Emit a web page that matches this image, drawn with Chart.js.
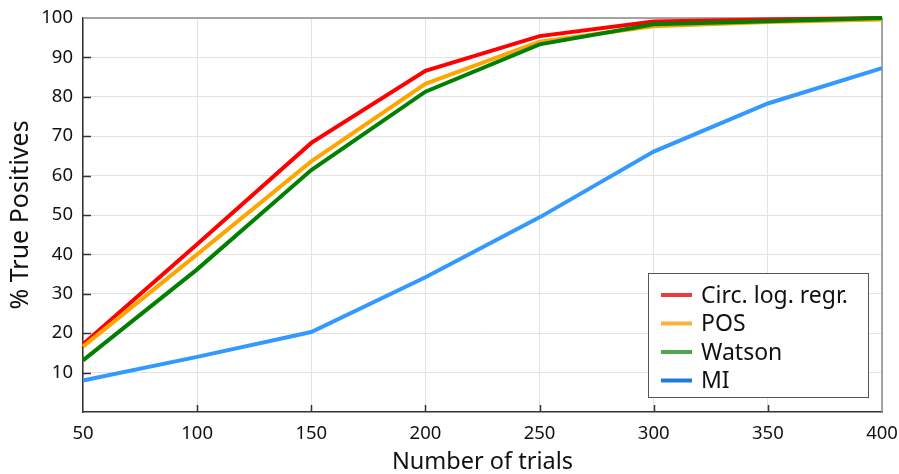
<!DOCTYPE html>
<html>
<head>
<meta charset="utf-8">
<script src="https://cdn.jsdelivr.net/npm/chart.js@4.4.1/dist/chart.umd.min.js"></script>
<style>
  html, body { margin: 0; padding: 0; background: #fff; }
  #wrap { width: 899px; height: 474px; }
</style>
</head>
<body>
<div id="wrap"><canvas id="tpChart" width="899" height="474"></canvas></div>
<script>
const trials = [50, 100, 150, 200, 250, 300, 350, 400];
const circLogRegr = [17.2, 42.6, 68.3, 86.6, 95.4, 99.1, 99.6, 100];
const posValues = [16.6, 40.0, 63.6, 83.3, 94.0, 97.9, 99.0, 99.6];
const watsonValues = [13.1, 36.2, 61.4, 81.3, 93.3, 98.4, 99.2, 100];
const miValues = [8.0, 14.0, 20.3, 34.2, 49.4, 66.1, 78.3, 87.3];
const yTicks = [10, 20, 30, 40, 50, 60, 70, 80, 90, 100];

const FONT = "'Noto Sans', 'Open Sans', sans-serif";

// label, values, line colour, legend swatch colour, draw order (lower = on top)
const series = [
  { label: "Circ. log. regr.", data: circLogRegr, color: "#ff0000", swatch: "#ec3b3b", order: 3 },
  { label: "POS", data: posValues, color: "#ffa500", swatch: "#ffaf3c", order: 2 },
  { label: "Watson", data: watsonValues, color: "#008000", swatch: "#4ea64e", order: 1 },
  { label: "MI", data: miValues, color: "#3399ff", swatch: "#1b7bd9", order: 4 }
];

const datasets = series.map((s) => ({
  label: s.label,
  data: trials.map((t, i) => ({ x: t, y: s.data[i] })),
  borderColor: s.color,
  backgroundColor: s.color,
  borderWidth: 4,
  pointRadius: 0,
  tension: 0,
  clip: 6,
  order: s.order
}));

// frame, inward tick marks and the boxed legend
const framePlugin = {
  id: "frame",
  beforeDatasetsDraw(chart) {
    const { ctx, chartArea: a } = chart;
    ctx.save();
    ctx.strokeStyle = "#8a8a8a";
    ctx.lineWidth = 1.5;
    ctx.beginPath();
    ctx.moveTo(a.left, a.top);
    ctx.lineTo(a.right, a.top);
    ctx.lineTo(a.right, a.bottom);
    ctx.stroke();

    ctx.strokeStyle = "#333";
    ctx.lineWidth = 1.5;
    const xs = chart.scales.x, ys = chart.scales.y;
    ctx.beginPath();
    yTicks.filter((v) => v < 100).forEach((v) => {
      const py = Math.round(ys.getPixelForValue(v)) + 0.5;
      ctx.moveTo(a.left, py);
      ctx.lineTo(a.left + 8, py);
    });
    trials.filter((t) => t > 50 && t < 400).forEach((t) => {
      const px = Math.round(xs.getPixelForValue(t)) + 0.5;
      ctx.moveTo(px, a.bottom);
      ctx.lineTo(px, a.bottom - 7);
    });
    ctx.stroke();
    ctx.restore();
  },
  afterDraw(chart) {
    const { ctx, chartArea: a } = chart;
    const w = 220, h = 124;
    const x0 = a.right - 14 - w, y0 = a.bottom - 15 - h;
    ctx.save();
    ctx.fillStyle = "#fff";
    ctx.fillRect(x0, y0, w, h);
    ctx.strokeStyle = "#555";
    ctx.lineWidth = 1;
    ctx.strokeRect(x0 + 0.5, y0 + 0.5, w, h);
    ctx.font = "23px " + FONT;
    ctx.textBaseline = "middle";
    series.forEach((s, i) => {
      const cy = y0 + 22 + i * 28.5;
      ctx.strokeStyle = s.swatch;
      ctx.lineWidth = 4;
      ctx.beginPath();
      ctx.moveTo(x0 + 13, cy);
      ctx.lineTo(x0 + 44, cy);
      ctx.stroke();
      ctx.fillStyle = "#111";
      ctx.fillText(s.label, x0 + 53, cy + 1);
    });
    ctx.restore();
  }
};

new Chart(document.getElementById("tpChart").getContext("2d"), {
  type: "line",
  data: { datasets },
  plugins: [framePlugin],
  options: {
    responsive: false,
    animation: false,
    layout: { padding: { top: 18, right: 17, left: 0, bottom: 0 } },
    plugins: { legend: { display: false }, tooltip: { enabled: false } },
    scales: {
      x: {
        type: "linear",
        min: 50,
        max: 400,
        afterFit: (s) => { s.height = 62; s.paddingRight = 0; s.paddingLeft = 0; },
        afterBuildTicks: (s) => { s.ticks = trials.map((v) => ({ value: v })); },
        grid: { color: "#e2e2e2", lineWidth: 1, drawTicks: false },
        border: { color: "#333", width: 1.5 },
        ticks: { color: "#111", padding: 11, font: { family: FONT, size: 18.5 } },
        title: {
          display: true,
          text: "Number of trials",
          color: "#111",
          padding: { top: 0, bottom: 0 },
          font: { family: FONT, size: 23.5, lineHeight: 1.0 }
        }
      },
      y: {
        min: 0,
        max: 100,
        afterFit: (s) => { s.width = 83; s.paddingTop = 0; s.paddingBottom = 0; },
        afterBuildTicks: (s) => { s.ticks = yTicks.map((v) => ({ value: v })); },
        grid: { color: "#e2e2e2", lineWidth: 1, drawTicks: false },
        border: { color: "#333", width: 1.5 },
        ticks: { color: "#111", padding: 10, font: { family: FONT, size: 18.5 } },
        title: {
          display: true,
          text: "% True Positives",
          color: "#111",
          padding: { top: 6, bottom: 0 },
          font: { family: FONT, size: 25 }
        }
      }
    }
  }
});
</script>
</body>
</html>
